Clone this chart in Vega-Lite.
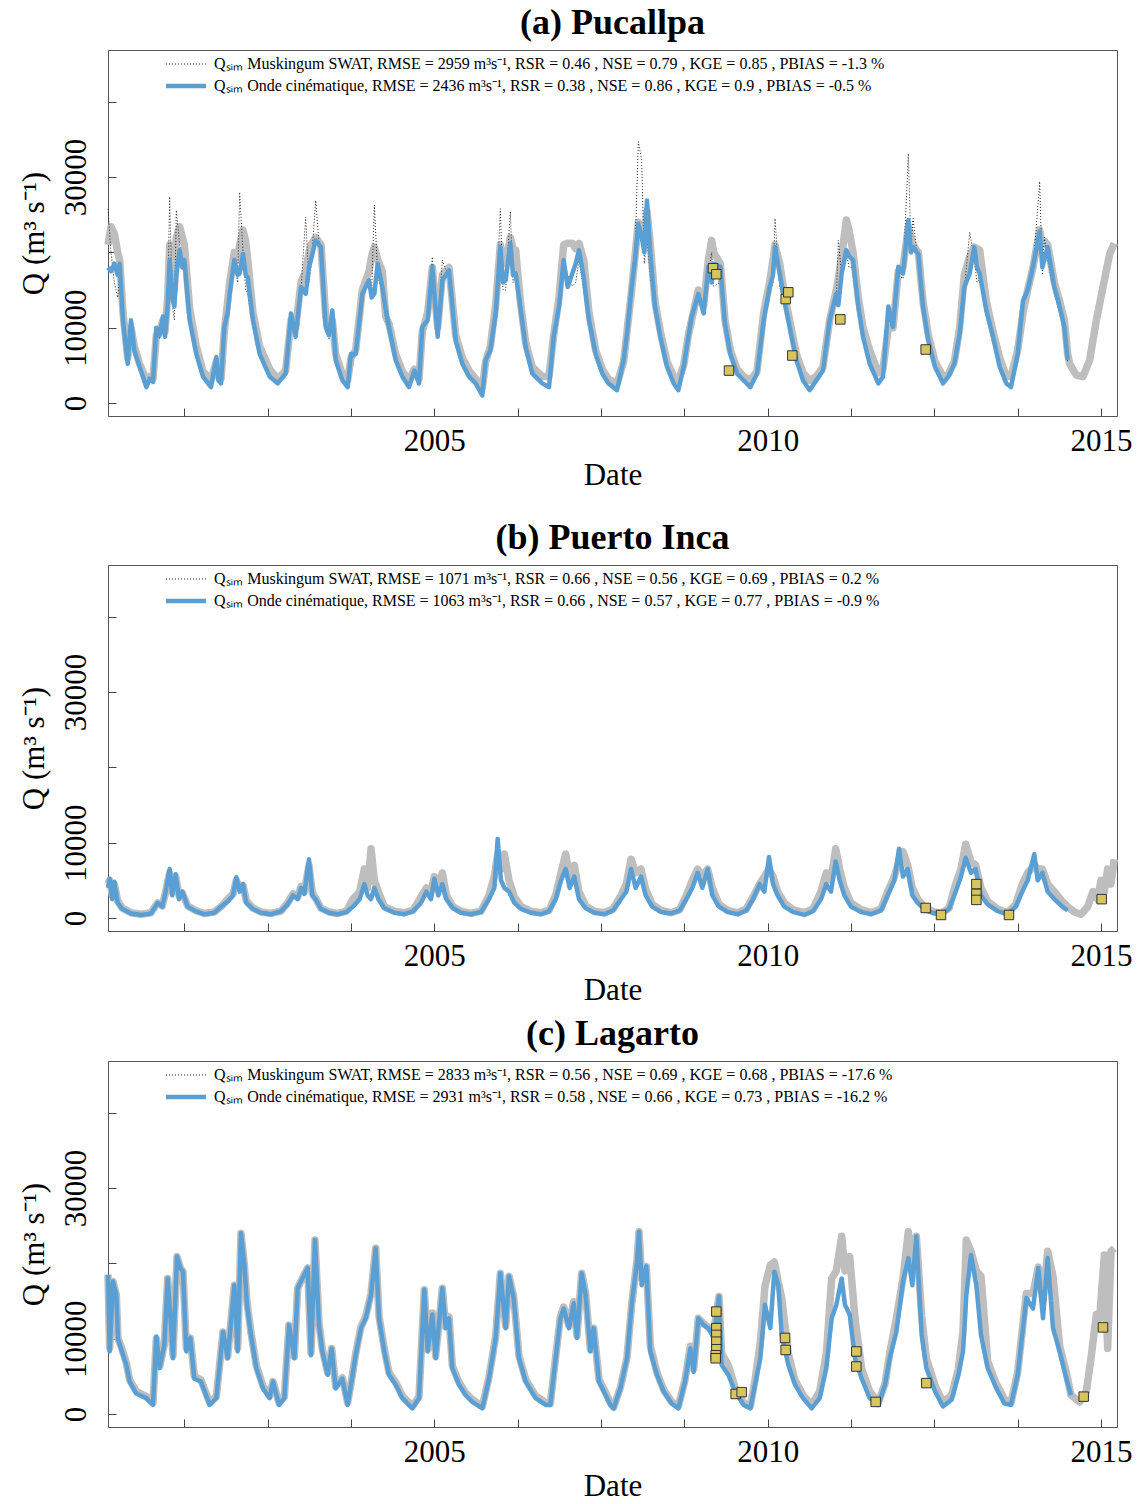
{
"$schema":"https://vega.github.io/schema/vega-lite/v6.json",
"background":"white",
"padding":{"left":17,"top":4,"right":5,"bottom":0},
"config":{
 "font":"Liberation Serif",
 "view":{"stroke":"#555","strokeWidth":1},
 "axis":{"domain":false,"grid":false,"tickColor":"#444","tickWidth":1,"tickSize":-8,"labelFont":"Liberation Serif","labelFontSize":31,"labelColor":"black","titleFont":"Liberation Serif","titleFontSize":31,"titleFontWeight":"normal","titleColor":"black","labelOverlap":false,"labelFlush":false},
 "axisX":{"labelPadding":18,"titlePadding":4,"labelExpr":"datum.value % 5 == 0 ? format(datum.value,'d') : ''"},
 "axisY":{"labelAngle":-90,"labelAlign":"center","labelBaseline":"bottom","labelPadding":24,"titlePadding":10,"labelExpr":"datum.value == 20000 || datum.value == 40000 ? '' : format(datum.value,'d')"},
 "title":{"font":"Liberation Serif","fontSize":36,"fontWeight":"bold","offset":8,"color":"black","anchor":"middle","frame":"group"},
 "legend":{"orient":"none","legendX":70,"legendY":6,"symbolType":"M-4,0H4","symbolSize":100,"labelFont":"Liberation Serif","labelFontSize":16,"labelColor":"black","labelLimit":0,"labelOffset":20,"rowPadding":5,"padding":0},
 "concat":{"spacing":9}
},
"resolve":{"scale":{"color":"independent","strokeDash":"independent","strokeWidth":"independent"},"legend":{"color":"independent","strokeDash":"independent","strokeWidth":"independent"}},
"datasets":{
"a":[
{"year":2000.105,"onde":18000,"obs":21000,"swat":25800},
{"year":2000.15,"onde":17500,"obs":23400,"swat":20000},
{"year":2000.2,"onde":18500,"obs":22500,"swat":16000},
{"year":2000.25,"onde":17000,"obs":20000,"swat":14000},
{"year":2000.28,"onde":18500,"obs":19000,"swat":17000},
{"year":2000.33,"onde":11000,"obs":12000,"swat":10000},
{"year":2000.4,"onde":5200,"obs":6000,"swat":5000},
{"year":2000.45,"onde":11000,"obs":10000,"swat":9500},
{"year":2000.5,"onde":7000,"obs":7500,"swat":6500},
{"year":2000.58,"onde":4800,"obs":5200,"swat":4500},
{"year":2000.68,"onde":2100,"obs":3000,"swat":2300},
{"year":2000.73,"onde":3200,"obs":3500,"swat":3000},
{"year":2000.78,"onde":2800,"obs":3200,"swat":2600},
{"year":2000.83,"onde":10000,"obs":9000,"swat":9500},
{"year":2000.88,"onde":9000,"obs":9500,"swat":8500},
{"year":2000.93,"onde":11500,"obs":11000,"swat":11000},
{"year":2000.96,"onde":8800,"obs":9500,"swat":8500},
{"year":2001.0,"onde":13000,"obs":14000,"swat":13500},
{"year":2001.03,"onde":19000,"obs":21000,"swat":27400},
{"year":2001.07,"onde":14000,"obs":16000,"swat":13000},
{"year":2001.1,"onde":12800,"obs":15000,"swat":11000},
{"year":2001.13,"onde":17000,"obs":22000,"swat":25600},
{"year":2001.18,"onde":20300,"obs":23400,"swat":21000},
{"year":2001.22,"onde":18000,"obs":22000,"swat":19000},
{"year":2001.25,"onde":19000,"obs":21000,"swat":18000},
{"year":2001.33,"onde":11000,"obs":12500,"swat":11500},
{"year":2001.43,"onde":6500,"obs":7500,"swat":7000},
{"year":2001.53,"onde":3500,"obs":4200,"swat":3600},
{"year":2001.65,"onde":2100,"obs":3000,"swat":2200},
{"year":2001.73,"onde":6100,"obs":5500,"swat":6000},
{"year":2001.76,"onde":3000,"obs":3500,"swat":3000},
{"year":2001.8,"onde":2600,"obs":3200,"swat":2500},
{"year":2001.85,"onde":10100,"obs":9500,"swat":10000},
{"year":2001.9,"onde":12000,"obs":13500,"swat":12000},
{"year":2001.93,"onde":14500,"obs":16000,"swat":14000},
{"year":2002.0,"onde":19000,"obs":20000,"swat":18500},
{"year":2002.05,"onde":17000,"obs":19000,"swat":16000},
{"year":2002.08,"onde":17200,"obs":21000,"swat":28000},
{"year":2002.13,"onde":19800,"obs":23000,"swat":20000},
{"year":2002.17,"onde":17000,"obs":21500,"swat":15000},
{"year":2002.2,"onde":16700,"obs":19000,"swat":14500},
{"year":2002.28,"onde":11000,"obs":12000,"swat":10500},
{"year":2002.38,"onde":6500,"obs":7500,"swat":6800},
{"year":2002.53,"onde":3500,"obs":4500,"swat":3800},
{"year":2002.65,"onde":2600,"obs":3200,"swat":2800},
{"year":2002.77,"onde":3900,"obs":4300,"swat":3800},
{"year":2002.85,"onde":11900,"obs":11000,"swat":11000},
{"year":2002.92,"onde":8800,"obs":10000,"swat":9000},
{"year":2003.0,"onde":15400,"obs":16000,"swat":15000},
{"year":2003.07,"onde":14500,"obs":17500,"swat":24700},
{"year":2003.12,"onde":18000,"obs":20000,"swat":16000},
{"year":2003.15,"onde":19000,"obs":21000,"swat":18000},
{"year":2003.22,"onde":21600,"obs":22000,"swat":26900},
{"year":2003.3,"onde":20700,"obs":21000,"swat":18000},
{"year":2003.37,"onde":10100,"obs":11500,"swat":9500},
{"year":2003.42,"onde":9000,"obs":9500,"swat":8500},
{"year":2003.47,"onde":12300,"obs":11000,"swat":11500},
{"year":2003.52,"onde":5700,"obs":6500,"swat":6000},
{"year":2003.62,"onde":3000,"obs":3800,"swat":3100},
{"year":2003.7,"onde":2100,"obs":3000,"swat":2300},
{"year":2003.75,"onde":6500,"obs":6000,"swat":6000},
{"year":2003.82,"onde":6500,"obs":7000,"swat":6200},
{"year":2003.92,"onde":14500,"obs":15000,"swat":14000},
{"year":2004.02,"onde":16300,"obs":17500,"swat":16000},
{"year":2004.06,"onde":14000,"obs":19500,"swat":15000},
{"year":2004.1,"onde":14500,"obs":20700,"swat":26300},
{"year":2004.15,"onde":18500,"obs":19000,"swat":17000},
{"year":2004.22,"onde":15400,"obs":17500,"swat":14500},
{"year":2004.27,"onde":12500,"obs":11500,"swat":11000},
{"year":2004.32,"onde":10100,"obs":10500,"swat":9500},
{"year":2004.42,"onde":5700,"obs":6500,"swat":6000},
{"year":2004.52,"onde":3500,"obs":4200,"swat":3700},
{"year":2004.62,"onde":2100,"obs":3000,"swat":2300},
{"year":2004.7,"onde":4300,"obs":4500,"swat":4200},
{"year":2004.77,"onde":2600,"obs":3200,"swat":2500},
{"year":2004.82,"onde":10100,"obs":9500,"swat":9800},
{"year":2004.9,"onde":11000,"obs":12000,"swat":11000},
{"year":2004.97,"onde":18100,"obs":18000,"swat":19400},
{"year":2005.05,"onde":8800,"obs":10000,"swat":9000},
{"year":2005.12,"onde":16300,"obs":17000,"swat":19000},
{"year":2005.22,"onde":17600,"obs":18000,"swat":16500},
{"year":2005.32,"onde":8300,"obs":9000,"swat":8500},
{"year":2005.42,"onde":5200,"obs":6000,"swat":5300},
{"year":2005.52,"onde":3500,"obs":4300,"swat":3600},
{"year":2005.62,"onde":2600,"obs":3200,"swat":2700},
{"year":2005.72,"onde":1000,"obs":2000,"swat":1300},
{"year":2005.77,"onde":5700,"obs":5500,"swat":5500},
{"year":2005.84,"onde":7000,"obs":7500,"swat":7000},
{"year":2005.92,"onde":11900,"obs":13000,"swat":12000},
{"year":2005.99,"onde":20700,"obs":21000,"swat":25800},
{"year":2006.03,"onde":16000,"obs":19000,"swat":15000},
{"year":2006.07,"onde":16300,"obs":18500,"swat":15000},
{"year":2006.14,"onde":21200,"obs":22000,"swat":25400},
{"year":2006.18,"onde":17000,"obs":20500,"swat":16000},
{"year":2006.22,"onde":17200,"obs":20300,"swat":17000},
{"year":2006.29,"onde":12800,"obs":13500,"swat":12500},
{"year":2006.37,"onde":7400,"obs":8000,"swat":7500},
{"year":2006.47,"onde":3900,"obs":4800,"swat":4000},
{"year":2006.62,"onde":2600,"obs":3500,"swat":2700},
{"year":2006.72,"onde":2100,"obs":3500,"swat":2300},
{"year":2006.79,"onde":8800,"obs":9000,"swat":8500},
{"year":2006.87,"onde":12800,"obs":14000,"swat":12000},
{"year":2006.94,"onde":19000,"obs":21000,"swat":18000},
{"year":2007.0,"onde":15400,"obs":21200,"swat":17000},
{"year":2007.07,"onde":17200,"obs":21200,"swat":15500},
{"year":2007.12,"onde":18500,"obs":20500,"swat":16000},
{"year":2007.17,"onde":20300,"obs":21200,"swat":19000},
{"year":2007.24,"onde":16700,"obs":19000,"swat":15000},
{"year":2007.32,"onde":11000,"obs":12000,"swat":11000},
{"year":2007.42,"onde":6500,"obs":7000,"swat":6500},
{"year":2007.52,"onde":3900,"obs":4500,"swat":4000},
{"year":2007.61,"onde":2600,"obs":3200,"swat":2800},
{"year":2007.74,"onde":1700,"obs":2500,"swat":2000},
{"year":2007.84,"onde":5700,"obs":5500,"swat":5500},
{"year":2007.89,"onde":9200,"obs":9500,"swat":9000},
{"year":2007.96,"onde":15400,"obs":15000,"swat":15000},
{"year":2008.01,"onde":19000,"obs":19500,"swat":20000},
{"year":2008.06,"onde":23800,"obs":24000,"swat":34700},
{"year":2008.11,"onde":22100,"obs":23000,"swat":32300},
{"year":2008.15,"onde":20000,"obs":22000,"swat":18500},
{"year":2008.19,"onde":26900,"obs":25500,"swat":22000},
{"year":2008.24,"onde":19800,"obs":21000,"swat":17000},
{"year":2008.31,"onde":12800,"obs":13500,"swat":12000},
{"year":2008.39,"onde":8800,"obs":9500,"swat":8500},
{"year":2008.49,"onde":4800,"obs":5500,"swat":5000},
{"year":2008.59,"onde":2600,"obs":3500,"swat":2800},
{"year":2008.66,"onde":1700,"obs":3000,"swat":2000},
{"year":2008.74,"onde":4800,"obs":5000,"swat":4500},
{"year":2008.81,"onde":8800,"obs":9000,"swat":8500},
{"year":2008.86,"onde":11400,"obs":11000,"swat":11000},
{"year":2008.96,"onde":14500,"obs":15000,"swat":14000},
{"year":2009.04,"onde":11900,"obs":13000,"swat":12000},
{"year":2009.11,"onde":18100,"obs":19000,"swat":17000},
{"year":2009.16,"onde":16000,"obs":21600,"swat":20000},
{"year":2009.19,"onde":18500,"obs":20000,"swat":15500},
{"year":2009.29,"onde":18100,"obs":18500,"swat":16000},
{"year":2009.36,"onde":10500,"obs":11000,"swat":10000},
{"year":2009.44,"onde":6500,"obs":7000,"swat":6500},
{"year":2009.54,"onde":3900,"obs":4500,"swat":4000},
{"year":2009.64,"onde":3000,"obs":3500,"swat":3200},
{"year":2009.74,"onde":2100,"obs":3000,"swat":2300},
{"year":2009.84,"onde":3900,"obs":4200,"swat":3800},
{"year":2009.94,"onde":11000,"obs":12000,"swat":10500},
{"year":2010.03,"onde":15400,"obs":16000,"swat":15000},
{"year":2010.08,"onde":17000,"obs":19000,"swat":16000},
{"year":2010.11,"onde":20700,"obs":21000,"swat":24500},
{"year":2010.18,"onde":17200,"obs":18500,"swat":15500},
{"year":2010.26,"onde":13200,"obs":14000,"swat":12500},
{"year":2010.33,"onde":10100,"obs":11000,"swat":10000},
{"year":2010.43,"onde":5700,"obs":6500,"swat":6000},
{"year":2010.53,"onde":3000,"obs":4000,"swat":3200},
{"year":2010.63,"onde":1700,"obs":3000,"swat":2000},
{"year":2010.73,"onde":3000,"obs":3500,"swat":3000},
{"year":2010.83,"onde":4300,"obs":4800,"swat":4200},
{"year":2010.93,"onde":11000,"obs":11000,"swat":11000},
{"year":2011.03,"onde":14500,"obs":15000,"swat":14000},
{"year":2011.06,"onde":13000,"obs":16500,"swat":21600},
{"year":2011.11,"onde":17200,"obs":19500,"swat":17000},
{"year":2011.18,"onde":20300,"obs":24300,"swat":20000},
{"year":2011.22,"onde":19500,"obs":23000,"swat":18000},
{"year":2011.28,"onde":19000,"obs":20000,"swat":18000},
{"year":2011.36,"onde":12800,"obs":14000,"swat":12000},
{"year":2011.43,"onde":8800,"obs":10000,"swat":8500},
{"year":2011.53,"onde":5200,"obs":7000,"swat":5500},
{"year":2011.66,"onde":2600,"obs":4000,"swat":2800},
{"year":2011.73,"onde":3500,"obs":4500,"swat":3500},
{"year":2011.81,"onde":12800,"obs":10000,"swat":12000},
{"year":2011.88,"onde":10100,"obs":10000,"swat":10000},
{"year":2011.96,"onde":18100,"obs":17500,"swat":17000},
{"year":2012.03,"onde":17200,"obs":18000,"swat":16500},
{"year":2012.11,"onde":24300,"obs":23500,"swat":33100},
{"year":2012.15,"onde":20000,"obs":22000,"swat":20500},
{"year":2012.18,"onde":20700,"obs":21000,"swat":24500},
{"year":2012.26,"onde":19800,"obs":20000,"swat":18500},
{"year":2012.33,"onde":12800,"obs":13500,"swat":12000},
{"year":2012.41,"onde":8300,"obs":9000,"swat":8000},
{"year":2012.51,"onde":4800,"obs":5500,"swat":5000},
{"year":2012.63,"onde":2600,"obs":3500,"swat":2800},
{"year":2012.71,"onde":3500,"obs":3800,"swat":3400},
{"year":2012.8,"onde":5200,"obs":5500,"swat":5000},
{"year":2012.88,"onde":9200,"obs":10000,"swat":9000},
{"year":2012.95,"onde":15400,"obs":17000,"swat":15000},
{"year":2013.03,"onde":17200,"obs":19500,"swat":22700},
{"year":2013.1,"onde":20700,"obs":20700,"swat":19000},
{"year":2013.14,"onde":18000,"obs":20500,"swat":16000},
{"year":2013.18,"onde":17200,"obs":20300,"swat":16500},
{"year":2013.28,"onde":12300,"obs":13500,"swat":12000},
{"year":2013.38,"onde":8800,"obs":9500,"swat":8500},
{"year":2013.48,"onde":4800,"obs":6000,"swat":5000},
{"year":2013.58,"onde":2600,"obs":3500,"swat":2800},
{"year":2013.65,"onde":2100,"obs":3500,"swat":2300},
{"year":2013.75,"onde":6500,"obs":7000,"swat":6300},
{"year":2013.83,"onde":13600,"obs":12000,"swat":13000},
{"year":2013.9,"onde":15000,"obs":15000,"swat":14500},
{"year":2013.98,"onde":18100,"obs":18000,"swat":17500},
{"year":2014.08,"onde":22800,"obs":23000,"swat":29400},
{"year":2014.12,"onde":18000,"obs":21000,"swat":17000},
{"year":2014.15,"onde":19000,"obs":21500,"swat":22000},
{"year":2014.2,"onde":20700,"obs":21000,"swat":19000},
{"year":2014.3,"onde":15400,"obs":16000,"swat":14500},
{"year":2014.38,"onde":12800,"obs":13500,"swat":12000},
{"year":2014.45,"onde":10100,"obs":11000,"swat":9500},
{"year":2014.5,"onde":5700,"obs":6500,"swat":5500},
{"year":2014.53,"onde":null,"obs":5200,"swat":null},
{"year":2014.63,"onde":null,"obs":3700,"swat":null},
{"year":2014.73,"onde":null,"obs":3500,"swat":null},
{"year":2014.83,"onde":null,"obs":5700,"swat":null},
{"year":2014.93,"onde":null,"obs":11000,"swat":null},
{"year":2015.03,"onde":null,"obs":15400,"swat":null},
{"year":2015.13,"onde":null,"obs":19800,"swat":null},
{"year":2015.2,"onde":null,"obs":21200,"swat":null}
],
"b":[
{"year":2000.105,"onde":4000,"obs":4500},
{"year":2000.13,"onde":5200,"obs":5000},
{"year":2000.17,"onde":2500,"obs":3000},
{"year":2000.2,"onde":4800,"obs":4500},
{"year":2000.25,"onde":2000,"obs":2300},
{"year":2000.32,"onde":1200,"obs":1300},
{"year":2000.45,"onde":600,"obs":700},
{"year":2000.6,"onde":400,"obs":500},
{"year":2000.75,"onde":600,"obs":700},
{"year":2000.85,"onde":2000,"obs":2000},
{"year":2000.92,"onde":1500,"obs":1600},
{"year":2000.97,"onde":3500,"obs":3500},
{"year":2001.03,"onde":6500,"obs":6000},
{"year":2001.07,"onde":3000,"obs":3500},
{"year":2001.12,"onde":5800,"obs":5500},
{"year":2001.17,"onde":2500,"obs":3000},
{"year":2001.22,"onde":3500,"obs":3300},
{"year":2001.3,"onde":1500,"obs":1600},
{"year":2001.42,"onde":900,"obs":1000},
{"year":2001.55,"onde":500,"obs":600},
{"year":2001.7,"onde":700,"obs":800},
{"year":2001.8,"onde":1500,"obs":1500},
{"year":2001.9,"onde":2200,"obs":2500},
{"year":2001.98,"onde":3000,"obs":3200},
{"year":2002.03,"onde":5400,"obs":5000},
{"year":2002.08,"onde":3500,"obs":4000},
{"year":2002.13,"onde":4500,"obs":4300},
{"year":2002.18,"onde":2000,"obs":2300},
{"year":2002.28,"onde":1200,"obs":1300},
{"year":2002.4,"onde":700,"obs":800},
{"year":2002.55,"onde":500,"obs":600},
{"year":2002.7,"onde":900,"obs":900},
{"year":2002.8,"onde":1800,"obs":2000},
{"year":2002.88,"onde":3000,"obs":3200},
{"year":2002.95,"onde":2500,"obs":2800},
{"year":2003.0,"onde":4000,"obs":4200},
{"year":2003.05,"onde":3200,"obs":3500},
{"year":2003.12,"onde":7800,"obs":7000},
{"year":2003.17,"onde":3000,"obs":3300},
{"year":2003.22,"onde":2500,"obs":2600},
{"year":2003.3,"onde":1200,"obs":1300},
{"year":2003.42,"onde":700,"obs":800},
{"year":2003.55,"onde":500,"obs":600},
{"year":2003.68,"onde":800,"obs":900},
{"year":2003.78,"onde":1500,"obs":2500},
{"year":2003.88,"onde":2500,"obs":3500},
{"year":2003.95,"onde":4500,"obs":6500},
{"year":2004.0,"onde":3000,"obs":4000},
{"year":2004.05,"onde":2500,"obs":9200},
{"year":2004.1,"onde":4000,"obs":5000},
{"year":2004.16,"onde":2500,"obs":3500},
{"year":2004.25,"onde":1300,"obs":1500},
{"year":2004.4,"onde":700,"obs":900},
{"year":2004.55,"onde":500,"obs":700},
{"year":2004.68,"onde":900,"obs":1000},
{"year":2004.8,"onde":2000,"obs":2800},
{"year":2004.88,"onde":3500,"obs":4000},
{"year":2004.95,"onde":2500,"obs":3500},
{"year":2005.0,"onde":5200,"obs":5500},
{"year":2005.06,"onde":3000,"obs":4000},
{"year":2005.12,"onde":4500,"obs":6000},
{"year":2005.18,"onde":2500,"obs":3000},
{"year":2005.28,"onde":1300,"obs":1500},
{"year":2005.4,"onde":700,"obs":900},
{"year":2005.55,"onde":500,"obs":600},
{"year":2005.7,"onde":800,"obs":900},
{"year":2005.82,"onde":2500,"obs":3000},
{"year":2005.9,"onde":4000,"obs":5500},
{"year":2005.95,"onde":10500,"obs":8500},
{"year":2006.0,"onde":5000,"obs":6500},
{"year":2006.05,"onde":4000,"obs":8500},
{"year":2006.12,"onde":3500,"obs":5000},
{"year":2006.2,"onde":2000,"obs":2800},
{"year":2006.3,"onde":1200,"obs":1500},
{"year":2006.45,"onde":700,"obs":900},
{"year":2006.6,"onde":500,"obs":700},
{"year":2006.72,"onde":900,"obs":1000},
{"year":2006.82,"onde":2500,"obs":3000},
{"year":2006.9,"onde":5000,"obs":6000},
{"year":2006.97,"onde":6500,"obs":8500},
{"year":2007.03,"onde":4000,"obs":5500},
{"year":2007.1,"onde":5500,"obs":7000},
{"year":2007.17,"onde":2500,"obs":3500},
{"year":2007.27,"onde":1300,"obs":1600},
{"year":2007.4,"onde":700,"obs":900},
{"year":2007.55,"onde":500,"obs":700},
{"year":2007.68,"onde":1000,"obs":1200},
{"year":2007.8,"onde":2500,"obs":3000},
{"year":2007.88,"onde":3500,"obs":4500},
{"year":2007.95,"onde":6500,"obs":7800},
{"year":2008.02,"onde":4000,"obs":6000},
{"year":2008.1,"onde":5500,"obs":6500},
{"year":2008.17,"onde":3000,"obs":3800},
{"year":2008.27,"onde":1500,"obs":1800},
{"year":2008.4,"onde":800,"obs":1000},
{"year":2008.55,"onde":600,"obs":700},
{"year":2008.68,"onde":1000,"obs":1100},
{"year":2008.78,"onde":2500,"obs":3000},
{"year":2008.87,"onde":4000,"obs":5000},
{"year":2008.95,"onde":6000,"obs":6500},
{"year":2009.02,"onde":4000,"obs":5500},
{"year":2009.1,"onde":6500,"obs":6500},
{"year":2009.17,"onde":3000,"obs":4000},
{"year":2009.27,"onde":1500,"obs":1800},
{"year":2009.4,"onde":800,"obs":1000},
{"year":2009.55,"onde":500,"obs":700},
{"year":2009.68,"onde":1000,"obs":1200},
{"year":2009.78,"onde":2500,"obs":2800},
{"year":2009.88,"onde":4500,"obs":4500},
{"year":2009.95,"onde":3500,"obs":5500},
{"year":2010.02,"onde":8100,"obs":6500},
{"year":2010.08,"onde":4500,"obs":5500},
{"year":2010.15,"onde":3000,"obs":3500},
{"year":2010.25,"onde":1500,"obs":2000},
{"year":2010.38,"onde":800,"obs":1100},
{"year":2010.55,"onde":400,"obs":700},
{"year":2010.68,"onde":900,"obs":1200},
{"year":2010.8,"onde":2500,"obs":3500},
{"year":2010.88,"onde":4500,"obs":6000},
{"year":2010.95,"onde":3500,"obs":5000},
{"year":2011.02,"onde":7500,"obs":9200},
{"year":2011.08,"onde":5000,"obs":6500},
{"year":2011.15,"onde":3000,"obs":4000},
{"year":2011.25,"onde":1500,"obs":2000},
{"year":2011.4,"onde":800,"obs":1100},
{"year":2011.55,"onde":500,"obs":700},
{"year":2011.7,"onde":1000,"obs":1200},
{"year":2011.8,"onde":3000,"obs":3500},
{"year":2011.9,"onde":5000,"obs":5500},
{"year":2011.97,"onde":9200,"obs":7500},
{"year":2012.03,"onde":5500,"obs":8800},
{"year":2012.1,"onde":6500,"obs":7000},
{"year":2012.17,"onde":3000,"obs":4000},
{"year":2012.25,"onde":2000,"obs":2500},
{"year":2012.37,"onde":1000,"obs":1300},
{"year":2012.5,"onde":600,"obs":800},
{"year":2012.6,"onde":500,"obs":600},
{"year":2012.72,"onde":1200,"obs":1300},
{"year":2012.82,"onde":3500,"obs":4500},
{"year":2012.9,"onde":5500,"obs":6500},
{"year":2012.97,"onde":8000,"obs":9800},
{"year":2013.05,"onde":6000,"obs":7500},
{"year":2013.12,"onde":6500,"obs":7000},
{"year":2013.2,"onde":3000,"obs":4000},
{"year":2013.3,"onde":1800,"obs":2200},
{"year":2013.45,"onde":900,"obs":1200},
{"year":2013.6,"onde":500,"obs":700},
{"year":2013.72,"onde":1500,"obs":1800},
{"year":2013.82,"onde":3500,"obs":4500},
{"year":2013.9,"onde":5000,"obs":6000},
{"year":2014.0,"onde":8500,"obs":7000},
{"year":2014.05,"onde":5000,"obs":6500},
{"year":2014.12,"onde":6000,"obs":6500},
{"year":2014.2,"onde":3500,"obs":4500},
{"year":2014.3,"onde":2500,"obs":3500},
{"year":2014.42,"onde":1500,"obs":2200},
{"year":2014.5,"onde":1000,"obs":1500},
{"year":2014.6,"onde":null,"obs":800},
{"year":2014.7,"onde":null,"obs":500},
{"year":2014.8,"onde":null,"obs":1500},
{"year":2014.88,"onde":null,"obs":3500},
{"year":2014.95,"onde":null,"obs":2500},
{"year":2015.0,"onde":null,"obs":5000},
{"year":2015.05,"onde":null,"obs":3500},
{"year":2015.1,"onde":null,"obs":6500},
{"year":2015.15,"onde":null,"obs":4500},
{"year":2015.2,"onde":null,"obs":7800}
],
"c":[
{"year":2000.105,"onde":18500,"obs":18500},
{"year":2000.13,"onde":8300,"obs":8800},
{"year":2000.18,"onde":17600,"obs":17600},
{"year":2000.23,"onde":15800,"obs":15800},
{"year":2000.255,"onde":10000,"obs":10000},
{"year":2000.3,"onde":8700,"obs":9000},
{"year":2000.38,"onde":6500,"obs":6800},
{"year":2000.43,"onde":4300,"obs":4500},
{"year":2000.53,"onde":2700,"obs":3000},
{"year":2000.68,"onde":2100,"obs":2300},
{"year":2000.78,"onde":1200,"obs":1500},
{"year":2000.83,"onde":10300,"obs":10000},
{"year":2000.88,"onde":6100,"obs":6300},
{"year":2000.95,"onde":9200,"obs":9200},
{"year":2001.0,"onde":18000,"obs":18000},
{"year":2001.05,"onde":11800,"obs":12000},
{"year":2001.08,"onde":7400,"obs":7800},
{"year":2001.14,"onde":20900,"obs":20900},
{"year":2001.19,"onde":19400,"obs":19400},
{"year":2001.23,"onde":18900,"obs":18900},
{"year":2001.28,"onde":8300,"obs":8800},
{"year":2001.34,"onde":10100,"obs":10100},
{"year":2001.4,"onde":4700,"obs":5000},
{"year":2001.5,"onde":4300,"obs":4500},
{"year":2001.63,"onde":1200,"obs":1500},
{"year":2001.73,"onde":2100,"obs":2300},
{"year":2001.83,"onde":10900,"obs":10900},
{"year":2001.9,"onde":7400,"obs":7600},
{"year":2002.0,"onde":17100,"obs":17100},
{"year":2002.05,"onde":8300,"obs":8800},
{"year":2002.1,"onde":24000,"obs":24000},
{"year":2002.15,"onde":19800,"obs":19800},
{"year":2002.19,"onde":14500,"obs":14800},
{"year":2002.25,"onde":10500,"obs":10800},
{"year":2002.33,"onde":6100,"obs":6400},
{"year":2002.43,"onde":3400,"obs":3700},
{"year":2002.53,"onde":2100,"obs":2400},
{"year":2002.58,"onde":4300,"obs":4300},
{"year":2002.67,"onde":1200,"obs":1500},
{"year":2002.75,"onde":2100,"obs":2300},
{"year":2002.82,"onde":11800,"obs":11800},
{"year":2002.9,"onde":7400,"obs":7600},
{"year":2002.95,"onde":16700,"obs":16700},
{"year":2003.02,"onde":18000,"obs":18000},
{"year":2003.1,"onde":19400,"obs":19400},
{"year":2003.15,"onde":7800,"obs":8200},
{"year":2003.21,"onde":23100,"obs":23100},
{"year":2003.27,"onde":11800,"obs":12000},
{"year":2003.32,"onde":8300,"obs":8600},
{"year":2003.4,"onde":5200,"obs":5500},
{"year":2003.46,"onde":8700,"obs":8700},
{"year":2003.52,"onde":3400,"obs":3700},
{"year":2003.62,"onde":4700,"obs":4800},
{"year":2003.7,"onde":1200,"obs":1500},
{"year":2003.75,"onde":3900,"obs":4000},
{"year":2003.82,"onde":7800,"obs":8000},
{"year":2003.9,"onde":11400,"obs":11600},
{"year":2003.97,"onde":12700,"obs":12900},
{"year":2004.05,"onde":15800,"obs":16000},
{"year":2004.12,"onde":22000,"obs":22000},
{"year":2004.17,"onde":12700,"obs":13000},
{"year":2004.25,"onde":8300,"obs":8600},
{"year":2004.32,"onde":5200,"obs":5500},
{"year":2004.42,"onde":3900,"obs":4200},
{"year":2004.52,"onde":2100,"obs":2400},
{"year":2004.67,"onde":750,"obs":1000},
{"year":2004.77,"onde":2100,"obs":2300},
{"year":2004.85,"onde":16500,"obs":16500},
{"year":2004.9,"onde":8300,"obs":8600},
{"year":2004.97,"onde":13200,"obs":13400},
{"year":2005.02,"onde":7400,"obs":7700},
{"year":2005.12,"onde":16700,"obs":16700},
{"year":2005.17,"onde":11400,"obs":11600},
{"year":2005.22,"onde":12700,"obs":12900},
{"year":2005.27,"onde":6100,"obs":6400},
{"year":2005.37,"onde":3900,"obs":4200},
{"year":2005.47,"onde":2500,"obs":2800},
{"year":2005.57,"onde":1600,"obs":1900},
{"year":2005.72,"onde":750,"obs":1000},
{"year":2005.82,"onde":4700,"obs":4900},
{"year":2005.92,"onde":10100,"obs":10300},
{"year":2005.99,"onde":18700,"obs":18700},
{"year":2006.07,"onde":11400,"obs":11700},
{"year":2006.12,"onde":18300,"obs":18300},
{"year":2006.19,"onde":15400,"obs":15600},
{"year":2006.27,"onde":7400,"obs":7700},
{"year":2006.37,"onde":4300,"obs":4600},
{"year":2006.52,"onde":2100,"obs":2400},
{"year":2006.67,"onde":1200,"obs":1500},
{"year":2006.74,"onde":1200,"obs":1400},
{"year":2006.82,"onde":7400,"obs":7600},
{"year":2006.89,"onde":12700,"obs":12900},
{"year":2006.94,"onde":14000,"obs":14200},
{"year":2007.02,"onde":11400,"obs":11700},
{"year":2007.09,"onde":14700,"obs":14900},
{"year":2007.14,"onde":10100,"obs":10400},
{"year":2007.21,"onde":18700,"obs":18700},
{"year":2007.27,"onde":15800,"obs":16000},
{"year":2007.34,"onde":8300,"obs":8600},
{"year":2007.39,"onde":11400,"obs":11400},
{"year":2007.47,"onde":4300,"obs":4600},
{"year":2007.57,"onde":2500,"obs":2800},
{"year":2007.64,"onde":1200,"obs":1500},
{"year":2007.69,"onde":750,"obs":900},
{"year":2007.79,"onde":3400,"obs":3500},
{"year":2007.89,"onde":7400,"obs":7500},
{"year":2007.96,"onde":14500,"obs":14500},
{"year":2008.04,"onde":20200,"obs":20500},
{"year":2008.07,"onde":24200,"obs":24200},
{"year":2008.11,"onde":17100,"obs":18000},
{"year":2008.18,"onde":19600,"obs":19600},
{"year":2008.24,"onde":8300,"obs":9000},
{"year":2008.34,"onde":5200,"obs":5500},
{"year":2008.44,"onde":3000,"obs":3200},
{"year":2008.56,"onde":1400,"obs":1600},
{"year":2008.66,"onde":750,"obs":1000},
{"year":2008.76,"onde":4300,"obs":4500},
{"year":2008.84,"onde":8700,"obs":9000},
{"year":2008.89,"onde":5600,"obs":6000},
{"year":2008.96,"onde":12700,"obs":12700},
{"year":2009.04,"onde":11800,"obs":12000},
{"year":2009.11,"onde":11400,"obs":11500},
{"year":2009.19,"onde":10100,"obs":11000},
{"year":2009.27,"onde":15600,"obs":15600},
{"year":2009.31,"onde":6500,"obs":8000},
{"year":2009.41,"onde":5200,"obs":6500},
{"year":2009.51,"onde":3000,"obs":3500},
{"year":2009.64,"onde":1200,"obs":1500},
{"year":2009.74,"onde":750,"obs":1000},
{"year":2009.81,"onde":3900,"obs":4500},
{"year":2009.89,"onde":7400,"obs":9500},
{"year":2009.96,"onde":14500,"obs":17000},
{"year":2010.04,"onde":11400,"obs":19800},
{"year":2010.1,"onde":18900,"obs":20200},
{"year":2010.16,"onde":17100,"obs":17500},
{"year":2010.21,"onde":10500,"obs":15400},
{"year":2010.31,"onde":6500,"obs":8000},
{"year":2010.41,"onde":3900,"obs":4500},
{"year":2010.53,"onde":2100,"obs":2500},
{"year":2010.66,"onde":750,"obs":1200},
{"year":2010.78,"onde":2100,"obs":3000},
{"year":2010.88,"onde":6100,"obs":8000},
{"year":2010.96,"onde":12700,"obs":18000},
{"year":2011.03,"onde":14500,"obs":19000},
{"year":2011.11,"onde":18000,"obs":23600},
{"year":2011.16,"onde":14500,"obs":19000},
{"year":2011.23,"onde":13200,"obs":20900},
{"year":2011.31,"onde":7400,"obs":12700},
{"year":2011.41,"onde":4700,"obs":6000},
{"year":2011.53,"onde":2100,"obs":3000},
{"year":2011.66,"onde":1200,"obs":1500},
{"year":2011.76,"onde":3900,"obs":4000},
{"year":2011.83,"onde":7400,"obs":8000},
{"year":2011.93,"onde":10900,"obs":12700},
{"year":2012.03,"onde":17600,"obs":18000},
{"year":2012.11,"onde":20700,"obs":24200},
{"year":2012.17,"onde":17100,"obs":20000},
{"year":2012.23,"onde":23600,"obs":23600},
{"year":2012.31,"onde":10500,"obs":13000},
{"year":2012.38,"onde":6100,"obs":7400},
{"year":2012.51,"onde":3000,"obs":3800},
{"year":2012.63,"onde":1000,"obs":1500},
{"year":2012.76,"onde":1900,"obs":2500},
{"year":2012.86,"onde":5200,"obs":6000},
{"year":2012.93,"onde":8300,"obs":11000},
{"year":2012.98,"onde":15800,"obs":23100},
{"year":2013.05,"onde":21100,"obs":21600},
{"year":2013.13,"onde":17100,"obs":19000},
{"year":2013.2,"onde":10500,"obs":18300},
{"year":2013.3,"onde":6100,"obs":7000},
{"year":2013.43,"onde":3400,"obs":4000},
{"year":2013.55,"onde":1400,"obs":2000},
{"year":2013.65,"onde":1200,"obs":1500},
{"year":2013.75,"onde":5200,"obs":5500},
{"year":2013.83,"onde":11400,"obs":12000},
{"year":2013.88,"onde":15400,"obs":16000},
{"year":2013.98,"onde":14000,"obs":16000},
{"year":2014.06,"onde":19400,"obs":19500},
{"year":2014.13,"onde":12700,"obs":15000},
{"year":2014.2,"onde":20700,"obs":21600},
{"year":2014.28,"onde":11400,"obs":18300},
{"year":2014.38,"onde":8300,"obs":9000},
{"year":2014.48,"onde":4700,"obs":5500},
{"year":2014.55,"onde":2500,"obs":2500},
{"year":2014.68,"onde":null,"obs":1600},
{"year":2014.78,"onde":null,"obs":3000},
{"year":2014.85,"onde":null,"obs":7400},
{"year":2014.93,"onde":null,"obs":13200},
{"year":2014.98,"onde":null,"obs":12700},
{"year":2015.05,"onde":null,"obs":21100},
{"year":2015.1,"onde":null,"obs":8700},
{"year":2015.15,"onde":null,"obs":21600},
{"year":2015.2,"onde":null,"obs":22000}
],
"pa":[
{"year":2009.18,"q":17900},{"year":2009.23,"q":17100},{"year":2009.42,"q":4300},{"year":2010.27,"q":13800},{"year":2010.31,"q":14700},{"year":2010.37,"q":6300},{"year":2011.09,"q":11100},{"year":2012.37,"q":7100}
],
"pb":[
{"year":2012.37,"q":1330},{"year":2012.6,"q":400},{"year":2013.13,"q":4500},{"year":2013.13,"q":3200},{"year":2013.13,"q":2400},{"year":2013.62,"q":400},{"year":2015.01,"q":2500}
],
"pc":[
{"year":2009.23,"q":13600},{"year":2009.23,"q":11400},{"year":2009.23,"q":10500},{"year":2009.23,"q":9600},{"year":2009.23,"q":8600},{"year":2009.22,"q":7800},{"year":2009.22,"q":7400},{"year":2009.52,"q":2660},{"year":2009.61,"q":2900},{"year":2010.26,"q":10100},{"year":2010.27,"q":8500},{"year":2011.33,"q":8300},{"year":2011.33,"q":6300},{"year":2011.62,"q":1600},{"year":2012.38,"q":4100},{"year":2014.74,"q":2300},{"year":2015.03,"q":11500}
]
},
"vconcat":[
{
 "width":1009,"height":366,
 "title":{"text":"(a) Pucallpa"},
 "encoding":{"x":{"field":"year","type":"quantitative","title":["Date"," "],"scale":{"domain":[2000.105,2015.24],"nice":false,"zero":false},"axis":{"titleLineHeight":19,"values":[2001.25,2002.5,2003.75,2005,2006.25,2007.5,2008.75,2010,2011.25,2012.5,2013.75,2015]}}},
 "layer":[
  {"data":{"name":"a"},"mark":{"type":"line","color":"#bebebe","strokeWidth":7.5,"strokeJoin":"round"},"encoding":{"y":{"field":"obs","type":"quantitative","title":"Q (m³ s⁻¹)","scale":{"domain":[-1730,46880],"nice":false,"zero":false},"axis":{"values":[0,10000,20000,30000,40000]}}}},
  {"data":{"name":"a"},"mark":{"type":"line"},"encoding":{"y":{"field":"swat","type":"quantitative","title":"Q (m³ s⁻¹)","scale":{"domain":[-1730,46880],"nice":false,"zero":false},"axis":{"values":[0,10000,20000,30000,40000]}},
   "color":{"datum":"Qₛᵢₘ Muskingum SWAT, RMSE = 2959 m³s⁻¹, RSR = 0.46 , NSE = 0.79 , KGE = 0.85 , PBIAS = -1.3 %","scale":{"domain":["Qₛᵢₘ Muskingum SWAT, RMSE = 2959 m³s⁻¹, RSR = 0.46 , NSE = 0.79 , KGE = 0.85 , PBIAS = -1.3 %","Qₛᵢₘ Onde cinématique, RMSE = 2436 m³s⁻¹, RSR = 0.38 , NSE = 0.86 , KGE = 0.9 , PBIAS = -0.5 %"],"range":["#222222","#5a9fd4"]},"legend":{"title":null}},
   "strokeDash":{"datum":"Qₛᵢₘ Muskingum SWAT, RMSE = 2959 m³s⁻¹, RSR = 0.46 , NSE = 0.79 , KGE = 0.85 , PBIAS = -1.3 %","scale":{"domain":["Qₛᵢₘ Muskingum SWAT, RMSE = 2959 m³s⁻¹, RSR = 0.46 , NSE = 0.79 , KGE = 0.85 , PBIAS = -1.3 %","Qₛᵢₘ Onde cinématique, RMSE = 2436 m³s⁻¹, RSR = 0.38 , NSE = 0.86 , KGE = 0.9 , PBIAS = -0.5 %"],"range":[[1,2],[1,0]]},"legend":{"title":null}},
   "strokeWidth":{"datum":"Qₛᵢₘ Muskingum SWAT, RMSE = 2959 m³s⁻¹, RSR = 0.46 , NSE = 0.79 , KGE = 0.85 , PBIAS = -1.3 %","type":"ordinal","scale":{"domain":["Qₛᵢₘ Muskingum SWAT, RMSE = 2959 m³s⁻¹, RSR = 0.46 , NSE = 0.79 , KGE = 0.85 , PBIAS = -1.3 %","Qₛᵢₘ Onde cinématique, RMSE = 2436 m³s⁻¹, RSR = 0.38 , NSE = 0.86 , KGE = 0.9 , PBIAS = -0.5 %"],"range":[1,4.5]},"legend":{"title":null}}}},
  {"data":{"name":"a"},"mark":{"type":"line","strokeJoin":"round"},"encoding":{"y":{"field":"onde","type":"quantitative","title":"Q (m³ s⁻¹)","scale":{"domain":[-1730,46880],"nice":false,"zero":false},"axis":{"values":[0,10000,20000,30000,40000]}},
   "color":{"datum":"Qₛᵢₘ Onde cinématique, RMSE = 2436 m³s⁻¹, RSR = 0.38 , NSE = 0.86 , KGE = 0.9 , PBIAS = -0.5 %"},
   "strokeDash":{"datum":"Qₛᵢₘ Onde cinématique, RMSE = 2436 m³s⁻¹, RSR = 0.38 , NSE = 0.86 , KGE = 0.9 , PBIAS = -0.5 %"},
   "strokeWidth":{"datum":"Qₛᵢₘ Onde cinématique, RMSE = 2436 m³s⁻¹, RSR = 0.38 , NSE = 0.86 , KGE = 0.9 , PBIAS = -0.5 %","type":"ordinal"}}},
  {"data":{"name":"pa"},"mark":{"type":"point","shape":"square","filled":true,"fill":"#d8c55b","stroke":"#333333","strokeWidth":1,"size":90,"opacity":1},"encoding":{"y":{"field":"q","type":"quantitative","title":"Q (m³ s⁻¹)","scale":{"domain":[-1730,46880],"nice":false,"zero":false},"axis":{"values":[0,10000,20000,30000,40000]}}}}
 ]
},
{
 "width":1009,"height":366,
 "title":{"text":"(b) Puerto Inca"},
 "encoding":{"x":{"field":"year","type":"quantitative","title":"Date","scale":{"domain":[2000.105,2015.24],"nice":false,"zero":false},"axis":{"values":[2001.25,2002.5,2003.75,2005,2006.25,2007.5,2008.75,2010,2011.25,2012.5,2013.75,2015]}}},
 "layer":[
  {"data":{"name":"b"},"mark":{"type":"line","color":"#bebebe","strokeWidth":7.5,"strokeJoin":"round"},"encoding":{"y":{"field":"obs","type":"quantitative","title":"Q (m³ s⁻¹)","scale":{"domain":[-1730,46880],"nice":false,"zero":false},"axis":{"values":[0,10000,20000,30000,40000]}}}},
  {"data":{"name":"b"},"mark":{"type":"line"},"encoding":{"y":{"field":"swat","type":"quantitative","title":"Q (m³ s⁻¹)","scale":{"domain":[-1730,46880],"nice":false,"zero":false},"axis":{"values":[0,10000,20000,30000,40000]}},
   "color":{"datum":"Qₛᵢₘ Muskingum SWAT, RMSE = 1071 m³s⁻¹, RSR = 0.66 , NSE = 0.56 , KGE = 0.69 , PBIAS = 0.2 %","scale":{"domain":["Qₛᵢₘ Muskingum SWAT, RMSE = 1071 m³s⁻¹, RSR = 0.66 , NSE = 0.56 , KGE = 0.69 , PBIAS = 0.2 %","Qₛᵢₘ Onde cinématique, RMSE = 1063 m³s⁻¹, RSR = 0.66 , NSE = 0.57 , KGE = 0.77 , PBIAS = -0.9 %"],"range":["#222222","#5a9fd4"]},"legend":{"title":null}},
   "strokeDash":{"datum":"Qₛᵢₘ Muskingum SWAT, RMSE = 1071 m³s⁻¹, RSR = 0.66 , NSE = 0.56 , KGE = 0.69 , PBIAS = 0.2 %","scale":{"domain":["Qₛᵢₘ Muskingum SWAT, RMSE = 1071 m³s⁻¹, RSR = 0.66 , NSE = 0.56 , KGE = 0.69 , PBIAS = 0.2 %","Qₛᵢₘ Onde cinématique, RMSE = 1063 m³s⁻¹, RSR = 0.66 , NSE = 0.57 , KGE = 0.77 , PBIAS = -0.9 %"],"range":[[1,2],[1,0]]},"legend":{"title":null}},
   "strokeWidth":{"datum":"Qₛᵢₘ Muskingum SWAT, RMSE = 1071 m³s⁻¹, RSR = 0.66 , NSE = 0.56 , KGE = 0.69 , PBIAS = 0.2 %","type":"ordinal","scale":{"domain":["Qₛᵢₘ Muskingum SWAT, RMSE = 1071 m³s⁻¹, RSR = 0.66 , NSE = 0.56 , KGE = 0.69 , PBIAS = 0.2 %","Qₛᵢₘ Onde cinématique, RMSE = 1063 m³s⁻¹, RSR = 0.66 , NSE = 0.57 , KGE = 0.77 , PBIAS = -0.9 %"],"range":[1,4.5]},"legend":{"title":null}}}},
  {"data":{"name":"b"},"mark":{"type":"line","strokeJoin":"round"},"encoding":{"y":{"field":"onde","type":"quantitative","title":"Q (m³ s⁻¹)","scale":{"domain":[-1730,46880],"nice":false,"zero":false},"axis":{"values":[0,10000,20000,30000,40000]}},
   "color":{"datum":"Qₛᵢₘ Onde cinématique, RMSE = 1063 m³s⁻¹, RSR = 0.66 , NSE = 0.57 , KGE = 0.77 , PBIAS = -0.9 %"},
   "strokeDash":{"datum":"Qₛᵢₘ Onde cinématique, RMSE = 1063 m³s⁻¹, RSR = 0.66 , NSE = 0.57 , KGE = 0.77 , PBIAS = -0.9 %"},
   "strokeWidth":{"datum":"Qₛᵢₘ Onde cinématique, RMSE = 1063 m³s⁻¹, RSR = 0.66 , NSE = 0.57 , KGE = 0.77 , PBIAS = -0.9 %","type":"ordinal"}}},
  {"data":{"name":"pb"},"mark":{"type":"point","shape":"square","filled":true,"fill":"#d8c55b","stroke":"#333333","strokeWidth":1,"size":90,"opacity":1},"encoding":{"y":{"field":"q","type":"quantitative","title":"Q (m³ s⁻¹)","scale":{"domain":[-1730,46880],"nice":false,"zero":false},"axis":{"values":[0,10000,20000,30000,40000]}}}}
 ]
},
{
 "width":1009,"height":366,
 "title":{"text":"(c) Lagarto"},
 "encoding":{"x":{"field":"year","type":"quantitative","title":"Date","scale":{"domain":[2000.105,2015.24],"nice":false,"zero":false},"axis":{"values":[2001.25,2002.5,2003.75,2005,2006.25,2007.5,2008.75,2010,2011.25,2012.5,2013.75,2015]}}},
 "layer":[
  {"data":{"name":"c"},"mark":{"type":"line","color":"#bebebe","strokeWidth":7.5,"strokeJoin":"round"},"encoding":{"y":{"field":"obs","type":"quantitative","title":"Q (m³ s⁻¹)","scale":{"domain":[-1730,46880],"nice":false,"zero":false},"axis":{"values":[0,10000,20000,30000,40000]}}}},
  {"data":{"name":"c"},"mark":{"type":"line"},"encoding":{"y":{"field":"swat","type":"quantitative","title":"Q (m³ s⁻¹)","scale":{"domain":[-1730,46880],"nice":false,"zero":false},"axis":{"values":[0,10000,20000,30000,40000]}},
   "color":{"datum":"Qₛᵢₘ Muskingum SWAT, RMSE = 2833 m³s⁻¹, RSR = 0.56 , NSE = 0.69 , KGE = 0.68 , PBIAS = -17.6 %","scale":{"domain":["Qₛᵢₘ Muskingum SWAT, RMSE = 2833 m³s⁻¹, RSR = 0.56 , NSE = 0.69 , KGE = 0.68 , PBIAS = -17.6 %","Qₛᵢₘ Onde cinématique, RMSE = 2931 m³s⁻¹, RSR = 0.58 , NSE = 0.66 , KGE = 0.73 , PBIAS = -16.2 %"],"range":["#222222","#5a9fd4"]},"legend":{"title":null}},
   "strokeDash":{"datum":"Qₛᵢₘ Muskingum SWAT, RMSE = 2833 m³s⁻¹, RSR = 0.56 , NSE = 0.69 , KGE = 0.68 , PBIAS = -17.6 %","scale":{"domain":["Qₛᵢₘ Muskingum SWAT, RMSE = 2833 m³s⁻¹, RSR = 0.56 , NSE = 0.69 , KGE = 0.68 , PBIAS = -17.6 %","Qₛᵢₘ Onde cinématique, RMSE = 2931 m³s⁻¹, RSR = 0.58 , NSE = 0.66 , KGE = 0.73 , PBIAS = -16.2 %"],"range":[[1,2],[1,0]]},"legend":{"title":null}},
   "strokeWidth":{"datum":"Qₛᵢₘ Muskingum SWAT, RMSE = 2833 m³s⁻¹, RSR = 0.56 , NSE = 0.69 , KGE = 0.68 , PBIAS = -17.6 %","type":"ordinal","scale":{"domain":["Qₛᵢₘ Muskingum SWAT, RMSE = 2833 m³s⁻¹, RSR = 0.56 , NSE = 0.69 , KGE = 0.68 , PBIAS = -17.6 %","Qₛᵢₘ Onde cinématique, RMSE = 2931 m³s⁻¹, RSR = 0.58 , NSE = 0.66 , KGE = 0.73 , PBIAS = -16.2 %"],"range":[1,4.5]},"legend":{"title":null}}}},
  {"data":{"name":"c"},"mark":{"type":"line","strokeJoin":"round"},"encoding":{"y":{"field":"onde","type":"quantitative","title":"Q (m³ s⁻¹)","scale":{"domain":[-1730,46880],"nice":false,"zero":false},"axis":{"values":[0,10000,20000,30000,40000]}},
   "color":{"datum":"Qₛᵢₘ Onde cinématique, RMSE = 2931 m³s⁻¹, RSR = 0.58 , NSE = 0.66 , KGE = 0.73 , PBIAS = -16.2 %"},
   "strokeDash":{"datum":"Qₛᵢₘ Onde cinématique, RMSE = 2931 m³s⁻¹, RSR = 0.58 , NSE = 0.66 , KGE = 0.73 , PBIAS = -16.2 %"},
   "strokeWidth":{"datum":"Qₛᵢₘ Onde cinématique, RMSE = 2931 m³s⁻¹, RSR = 0.58 , NSE = 0.66 , KGE = 0.73 , PBIAS = -16.2 %","type":"ordinal"}}},
  {"data":{"name":"pc"},"mark":{"type":"point","shape":"square","filled":true,"fill":"#d8c55b","stroke":"#333333","strokeWidth":1,"size":90,"opacity":1},"encoding":{"y":{"field":"q","type":"quantitative","title":"Q (m³ s⁻¹)","scale":{"domain":[-1730,46880],"nice":false,"zero":false},"axis":{"values":[0,10000,20000,30000,40000]}}}}
 ]
}
]
}
